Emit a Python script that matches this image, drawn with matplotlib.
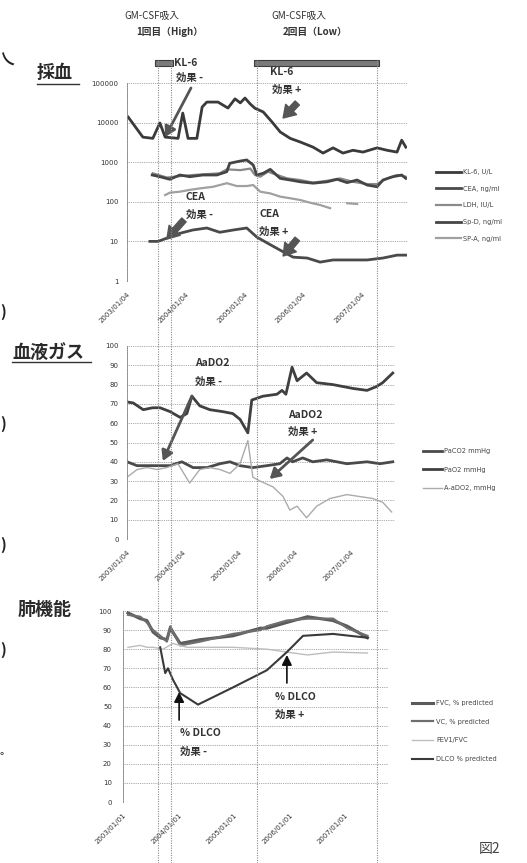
import numpy as np
import matplotlib
matplotlib.use("Agg")
import matplotlib.pyplot as plt
from matplotlib.lines import Line2D
from matplotlib.patches import Rectangle
from matplotlib.transforms import blended_transform_factory

plt.rcParams['font.family'] = ['Noto Sans CJK JP', 'DejaVu Sans']

W, H = 527, 863

# ---------------- 採血 (serum markers, log scale) ----------------
kl6_t = [2003.02, 2003.27, 2003.44, 2003.56, 2003.65, 2003.87, 2003.95, 2004.04,
         2004.19, 2004.28, 2004.36, 2004.55, 2004.72, 2004.84, 2004.93, 2005.01,
         2005.10, 2005.18, 2005.32, 2005.47, 2005.61, 2005.78, 2005.95, 2006.17,
         2006.34, 2006.51, 2006.68, 2006.85, 2007.02, 2007.26, 2007.43, 2007.60,
         2007.68, 2007.75]
kl6 = [13800, 4300, 4000, 9800, 4300, 4000, 17400, 4000, 4000, 24700, 33000, 33000,
       23300, 39800, 31500, 41700, 29500, 23000, 18600, 10400, 5800, 4000, 3240, 2400,
       1700, 2300, 1700, 2000, 1800, 2300, 2000, 1800, 3600, 2400]

cea_t = [2003.39, 2003.53, 2003.73, 2003.90, 2004.12, 2004.36, 2004.58, 2004.81,
         2005.04, 2005.21, 2005.39, 2005.61, 2005.83, 2006.07, 2006.29, 2006.51,
         2006.85, 2007.09, 2007.36, 2007.60, 2007.75]
cea = [10, 10, 12.9, 16, 19.4, 21.8, 17, 19.4, 21.8, 12.9, 9.1, 6.0, 4.0, 3.8, 3.0,
       3.4, 3.4, 3.4, 3.8, 4.5, 4.5]

ldh_t = [2003.44, 2003.68, 2003.90, 2004.12, 2004.36, 2004.58, 2004.70, 2004.93,
         2005.10, 2005.18, 2005.27, 2005.40, 2005.56, 2005.73, 2005.95, 2006.17,
         2006.41, 2006.63, 2006.85, 2007.09, 2007.26, 2007.43, 2007.60, 2007.75]
ldh = [525, 410, 445, 475, 500, 525, 660, 630, 690, 475, 430, 575, 475, 390, 355,
       305, 340, 390, 320, 280, 280, 390, 475, 430]

spd_t = [2003.43, 2003.56, 2003.73, 2003.90, 2004.07, 2004.29, 2004.53, 2004.70,
         2004.75, 2004.93, 2005.04, 2005.15, 2005.21, 2005.32, 2005.44, 2005.61,
         2005.78, 2005.95, 2006.17, 2006.41, 2006.58, 2006.75, 2006.92, 2007.09,
         2007.26, 2007.36, 2007.53, 2007.68, 2007.75]
spd = [475, 430, 370, 475, 430, 475, 475, 575, 940, 1070, 1140, 850, 475, 525, 660,
       390, 355, 320, 295, 320, 370, 305, 355, 265, 240, 355, 430, 475, 390]

spa_t = [2003.65, 2003.73, 2003.90, 2004.07, 2004.24, 2004.47, 2004.70, 2004.87,
         2005.04, 2005.15, 2005.27, 2005.44, 2005.61, 2005.78, 2005.95, 2006.12,
         2006.29, 2006.46, 2006.60, 2006.75, 2006.92]
spa = [148, 170, 180, 200, 218, 240, 295, 250, 250, 265, 180, 163, 135, 123, 111,
       95, 83, 69, np.nan, 92, 88]

# ---------------- 血液ガス (blood gas) ----------------
pao2_t = [2003.00, 2003.11, 2003.29, 2003.46, 2003.59, 2003.77, 2003.95, 2004.07,
          2004.16, 2004.30, 2004.48, 2004.71, 2004.89, 2005.02, 2005.16, 2005.23,
          2005.43, 2005.68, 2005.77, 2005.84, 2005.95, 2006.04, 2006.21, 2006.39,
          2006.68, 2007.04, 2007.29, 2007.46, 2007.57, 2007.75]
pao2 = [71, 70.5, 67, 68, 68, 66, 63, 65, 74, 69, 67, 66, 65, 62, 55, 72, 74, 75,
        77, 75, 89, 82, 86, 81, 80, 78, 77, 79, 81, 86]

paco2_t = [2003.00, 2003.18, 2003.46, 2003.77, 2003.98, 2004.18, 2004.43, 2004.66,
           2004.84, 2005.02, 2005.25, 2005.50, 2005.73, 2005.86, 2005.96, 2006.14,
           2006.32, 2006.57, 2006.93, 2007.29, 2007.52, 2007.75]
paco2 = [40, 38, 38, 38, 40, 37, 37, 39, 40, 38, 37, 38, 39, 42, 40, 42, 40, 41,
         39, 40, 39, 40]

aado2_t = [2003.00, 2003.18, 2003.36, 2003.54, 2003.71, 2003.91, 2004.12, 2004.30,
           2004.48, 2004.66, 2004.84, 2005.02, 2005.16, 2005.25, 2005.38, 2005.61,
           2005.79, 2005.91, 2006.04, 2006.21, 2006.39, 2006.63, 2006.93, 2007.16,
           2007.39, 2007.57, 2007.73]
aado2 = [32, 36, 37, 36, 37, 39, 29, 36, 37, 36, 34, 39, 51, 32, 30, 27, 22, 15,
         17, 11, 17, 21, 23, 22, 21, 19, 14]

# ---------------- 肺機能 (pulmonary function) ----------------
pft_t = [2003.09, 2003.31, 2003.43, 2003.54, 2003.67, 2003.79, 2003.85, 2004.03,
         2004.39, 2004.98, 2005.47, 2005.59, 2005.95, 2006.32, 2006.78, 2007.04,
         2007.40]
fvc = [99, 96, 95, 89, 86, 85, 91, 83, 85, 87, 91, 91, 94, 97, 95, 92, 86]
vc = [98, 97, 94, 90, 87, 84, 92, 82, 84, 88, 90, 92, 95, 96, 96, 91, 87]

fev1_t = [2003.09, 2003.31, 2003.43, 2003.54, 2003.72, 2003.90, 2004.15, 2004.98,
          2005.59, 2005.95, 2006.32, 2006.78, 2007.40]
fev1 = [81, 82, 81, 81, 80, 83, 81, 81, 80, 78.5, 77, 78.5, 78]

dlco_t = [2003.67, 2003.76, 2003.81, 2003.90, 2004.03, 2004.35, 2004.98, 2005.59,
          2005.95, 2006.24, 2006.78, 2007.40]
dlco = [81, 67.5, 70, 64, 57, 51, 60, 69, 78.5, 87, 88, 86]

# axis ticks
year_ticks = [2003, 2004, 2005, 2006, 2007]
labels_04 = ["2003/01/04", "2004/01/04", "2005/01/04", "2006/01/04", "2007/01/04"]
labels_01 = ["2003/01/01", "2004/01/01", "2005/01/01", "2006/01/01", "2007/01/01"]
log_ticks = [1, 10, 100, 1000, 10000, 100000]
lin_ticks = list(range(0, 101, 10))

# GM-CSF inhalation periods (years)
high_period = (2003.53, 2003.75)
low_period = (2005.21, 2007.26)

fig = plt.figure(figsize=(W / 100, H / 100), dpi=100)
fig.patch.set_facecolor('white')


def fx(px):
    return px / W


def fy(py):
    return 1 - py / H


DOT = (0, (1, 1.2))


def style(ax, xlim, xlabels, ylabels_pad):
    for name, sp in ax.spines.items():
        sp.set_visible(name == 'left')
    ax.spines['left'].set_linestyle(DOT)
    ax.spines['left'].set_color('#888888')
    ax.spines['left'].set_linewidth(0.7)
    ax.grid(axis='y', color='#8c8c8c', lw=0.6, ls=DOT)
    ax.set_axisbelow(True)
    ax.set_xlim(*xlim)
    ax.set_xticks(year_ticks)
    ax.set_xticklabels(xlabels, rotation=45, ha='right', va='top',
                       rotation_mode='anchor', fontsize=5, color='#333333',
                       family='DejaVu Sans')
    ax.tick_params(axis='x', length=0, pad=7)
    ax.tick_params(axis='y', length=0, pad=ylabels_pad, labelsize=5,
                   labelcolor='#333333')
    ax.minorticks_off()


# ---- panel 1 ----
ax1 = fig.add_axes([fx(127), fy(281), fx(280), 198 / H])
ax1.set_yscale('log')
ax1.set_ylim(1, 100000)
l_kl6, = ax1.plot(kl6_t, kl6, color='#3a3a3a', lw=2.0)
l_cea, = ax1.plot(cea_t, cea, color='#4a4a4a', lw=2.0)
l_ldh, = ax1.plot(ldh_t, ldh, color='#8a8a8a', lw=1.6)
l_spd, = ax1.plot(spd_t, spd, color='#454545', lw=2.0)
l_spa, = ax1.plot(spa_t, spa, color='#a0a0a0', lw=1.6)
ax1.set_yticks(log_ticks)
ax1.set_yticklabels([str(v) for v in log_ticks], family='DejaVu Sans')
style(ax1, (2003.0, 2007.77), labels_04, 6)

# ---- panel 2 ----
ax2 = fig.add_axes([fx(127), fy(539), fx(268), 193 / H])
ax2.set_ylim(0, 100)
l_paco2, = ax2.plot(paco2_t, paco2, color='#4a4a4a', lw=2.0)
l_pao2, = ax2.plot(pao2_t, pao2, color='#404040', lw=2.0)
l_aado2, = ax2.plot(aado2_t, aado2, color='#ababab', lw=1.0)
ax2.set_yticks(lin_ticks)
ax2.set_yticklabels([str(v) for v in lin_ticks], family='DejaVu Sans')
style(ax2, (2003.0, 2007.79), labels_04, 6)

# ---- panel 3 ----
ax3 = fig.add_axes([fx(123), fy(802), fx(265), 191 / H])
ax3.set_ylim(0, 100)
l_fvc, = ax3.plot(pft_t, fvc, color='#5a5a5a', lw=2.2)
l_vc, = ax3.plot(pft_t, vc, color='#6e6e6e', lw=1.6)
l_fev, = ax3.plot(fev1_t, fev1, color='#bdbdbd', lw=1.0)
l_dlco, = ax3.plot(dlco_t, dlco, color='#3a3a3a', lw=1.5)
ax3.set_yticks(lin_ticks)
ax3.set_yticklabels([str(v) for v in lin_ticks], family='DejaVu Sans')
style(ax3, (2003.0, 2007.77), labels_01, 8)

# ---- inhalation period markers spanning all panels ----
btr = blended_transform_factory(ax1.transData, fig.transFigure)
for x0, x1 in (high_period, low_period):
    for xv in (x0, x1):
        fig.add_artist(Line2D([xv, xv], [fy(60), 0], transform=btr,
                              color='#8a8a8a', lw=0.8, ls=DOT))
    fig.add_artist(Rectangle((x0 - 0.05, fy(66)), (x1 - x0) + 0.08, 6 / H,
                             transform=btr, facecolor='#7a7a7a',
                             edgecolor='#3c3c3c', lw=0.8))

txt_kw = dict(color='#333333', fontsize=7, va='center')
fig.text(fx(152), fy(16), 'GM-CSF吸入', ha='center', **txt_kw)
fig.text(fx(170), fy(32), '1回目（High）', ha='center', fontweight='bold', **txt_kw)
fig.text(fx(299), fy(16), 'GM-CSF吸入', ha='center', **txt_kw)
fig.text(fx(315), fy(32), '2回目（Low）', ha='center', fontweight='bold', **txt_kw)

# section headings
head_kw = dict(color='#2a2a2a', fontsize=13, fontweight='bold', va='center', ha='left')
fig.text(fx(37), fy(73), '採血', **head_kw)
fig.add_artist(Line2D([fx(37), fx(79)], [fy(84), fy(84)], color='#333333', lw=1.0))
fig.text(fx(12), fy(352), '血液ガス', **head_kw)
fig.add_artist(Line2D([fx(12), fx(91)], [fy(362), fy(362)], color='#333333', lw=1.0))
fig.text(fx(18), fy(609), '肺機能', **head_kw)

# marks from the neighbouring column at the left edge
frag_kw = dict(color='#222222', fontsize=11, fontweight='bold', va='center', ha='left')
fig.text(fx(0), fy(60), '乀', **frag_kw)
for yy in (312, 424, 545, 650):
    fig.text(fx(0), fy(yy), ')', **frag_kw)
fig.text(fx(0), fy(757), '°', color='#222222', fontsize=8, va='center', ha='left')

fig.text(fx(490), fy(849), '図2', color='#444444', fontsize=10, ha='center', va='center')

# effect annotations
ann_kw = dict(color='#333333', fontsize=7.5, fontweight='bold', ha='left', va='center')
for x, y, s in [(174, 63, 'KL-6'), (176, 78, '効果 -'), (270, 72, 'KL-6'),
                (272, 90, '効果 +'), (186, 197, 'CEA'), (186, 215, '効果 -'),
                (259, 214, 'CEA'), (259, 232, '効果 +'),
                (195, 363, 'AaDO2'), (195, 382, '効果 -'),
                (288, 415, 'AaDO2'), (288, 432, '効果 +'),
                (180, 733, '% DLCO'), (180, 752, '効果 -'),
                (275, 697, '% DLCO'), (275, 715, '効果 +')]:
    fig.text(fx(x), fy(y), s, **ann_kw)

line_arrow = dict(arrowstyle='-|>,head_length=0.6,head_width=0.35', color='#555555',
                  lw=2.0, mutation_scale=10, shrinkA=0, shrinkB=0)
block_arrow = dict(arrowstyle='simple,head_length=0.7,head_width=0.9,tail_width=0.35',
                   color='#555555', mutation_scale=12, shrinkA=0, shrinkB=0)
thin_arrow = dict(arrowstyle='-|>,head_length=0.6,head_width=0.3', color='#111111',
                  lw=1.2, mutation_scale=10, shrinkA=0, shrinkB=0)

ax1.annotate('', xy=(2003.65, 4330), xytext=(2004.09, 74800), arrowprops=line_arrow,
             annotation_clip=False)
ax1.annotate('', xy=(2005.66, 13100), xytext=(2005.90, 31300), arrowprops=block_arrow,
             annotation_clip=False)
ax1.annotate('', xy=(2003.68, 11.5), xytext=(2003.97, 34.8), arrowprops=block_arrow,
             annotation_clip=False)
ax1.annotate('', xy=(2005.66, 4.28), xytext=(2005.90, 11.5), arrowprops=block_arrow,
             annotation_clip=False)
ax2.annotate('', xy=(2003.64, 40.4), xytext=(2004.16, 74.1), arrowprops=line_arrow)
ax2.annotate('', xy=(2005.55, 31.1), xytext=(2006.32, 51.3), arrowprops=line_arrow)
ax3.annotate('', xy=(2004.01, 57.6), xytext=(2004.01, 42.9), arrowprops=thin_arrow)
ax3.annotate('', xy=(2005.95, 77.0), xytext=(2005.95, 62.3), arrowprops=thin_arrow)

# legends
leg_kw = dict(loc='upper left', frameon=False, borderpad=0,
              borderaxespad=0, handletextpad=0.4, labelcolor='#444444',
              prop={'family': 'DejaVu Sans', 'size': 4.8})
fig.legend([l_kl6, l_cea, l_ldh, l_spd, l_spa],
           ['KL-6, U/L', 'CEA, ng/ml', 'LDH, IU/L', 'Sp-D, ng/ml', 'SP-A, ng/ml'],
           bbox_to_anchor=(fx(436), fy(169)), handlelength=3.7, labelspacing=1.6,
           **leg_kw)
fig.legend([l_paco2, l_pao2, l_aado2],
           ['PaCO2 mmHg', 'PaO2 mmHg', 'A-aDO2, mmHg'],
           bbox_to_anchor=(fx(423), fy(448)), handlelength=2.8, labelspacing=1.9,
           **leg_kw)
fig.legend([l_fvc, l_vc, l_fev, l_dlco],
           ['FVC, % predicted', 'VC, % predicted', 'FEV1/FVC', 'DLCO % predicted'],
           bbox_to_anchor=(fx(412), fy(700)), handlelength=3.2, labelspacing=1.9,
           **leg_kw)

fig.savefig('out.png', dpi=100, facecolor='white')
